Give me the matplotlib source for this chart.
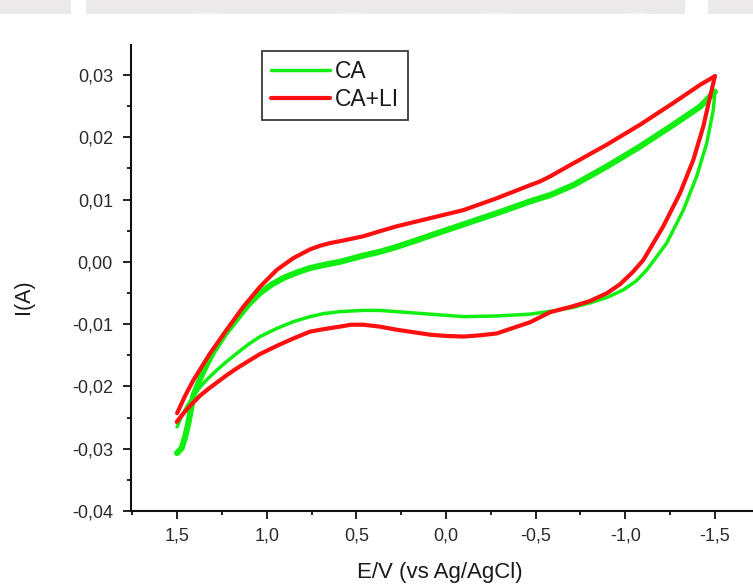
import matplotlib

matplotlib.use("Agg")
import matplotlib.pyplot as plt
from matplotlib.patches import Rectangle, Ellipse
from matplotlib.ticker import FuncFormatter, MultipleLocator

plt.rcParams["font.family"] = ["Liberation Sans", "DejaVu Sans"]

# CA: sweep from +1.5 V to -1.5 V (upper) and back (lower)
ca_up_e = [1.500, 1.474, 1.455, 1.437, 1.409, 1.372, 1.330, 1.298, 1.230, 1.167,
           1.100, 1.037, 0.970, 0.907, 0.830, 0.758, 0.680, 0.591, 0.461, 0.370,
           0.275, 0.180, 0.089, -0.097, -0.283, -0.469, -0.580, -0.710, -0.897,
           -1.082, -1.268, -1.417, -1.492, -1.500]
ca_up_i = [-0.0307, -0.0299, -0.0281, -0.0259, -0.0215, -0.0188, -0.0162, -0.0145,
           -0.0115, -0.0092, -0.0068, -0.0050, -0.0036, -0.0026, -0.0017, -0.0010,
           -0.0005, 0.0000, 0.0010, 0.0016, 0.0024, 0.0033, 0.0042, 0.0060, 0.0078,
           0.0097, 0.0107, 0.0123, 0.0153, 0.0185, 0.0220, 0.0249, 0.0271, 0.0273]
ca_dn_e = [-1.500, -1.491, -1.454, -1.398, -1.324, -1.231, -1.120, -1.060, -0.989,
           -0.900, -0.803, -0.710, -0.618, -0.469, -0.283, -0.097, 0.089, 0.275,
           0.370, 0.461, 0.530, 0.591, 0.680, 0.758, 0.851, 0.944, 1.037, 1.100,
           1.167, 1.223, 1.279, 1.330, 1.372, 1.410, 1.446, 1.475, 1.500]
ca_dn_i = [0.0273, 0.0244, 0.0190, 0.0137, 0.0083, 0.0030, -0.0013, -0.0031, -0.0045,
           -0.0057, -0.0066, -0.0073, -0.0078, -0.0084, -0.0087, -0.0088, -0.0084,
           -0.0080, -0.0078, -0.0078, -0.0079, -0.0080, -0.0083, -0.0088, -0.0096,
           -0.0107, -0.0120, -0.0132, -0.0147, -0.0160, -0.0174, -0.0188, -0.0201,
           -0.0216, -0.0233, -0.0248, -0.0265]

# CA+LI
li_up_e = [1.500, 1.455, 1.409, 1.316, 1.223, 1.130, 1.037, 0.944, 0.851, 0.758,
           0.700, 0.647, 0.560, 0.461, 0.370, 0.275, 0.089, -0.097, -0.283, -0.469,
           -0.525, -0.580, -0.710, -0.897, -1.082, -1.268, -1.417, -1.500]
li_up_i = [-0.0243, -0.0215, -0.0190, -0.0147, -0.0109, -0.0072, -0.0040, -0.0013,
           0.0006, 0.0020, 0.0026, 0.0030, 0.0035, 0.0041, 0.0049, 0.0057, 0.0070,
           0.0083, 0.0102, 0.0123, 0.0129, 0.0137, 0.0158, 0.0188, 0.0220, 0.0255,
           0.0284, 0.0298]
li_dn_e = [-1.500, -1.473, -1.435, -1.380, -1.305, -1.212, -1.101, -1.040, -0.971,
           -0.900, -0.803, -0.700, -0.618, -0.580, -0.469, -0.283, -0.190, -0.097,
           0.000, 0.089, 0.275, 0.370, 0.461, 0.530, 0.591, 0.680, 0.758, 0.851,
           0.944, 1.037, 1.100, 1.167, 1.223, 1.279, 1.330, 1.372, 1.410, 1.446,
           1.475, 1.502]
li_dn_i = [0.0298, 0.0265, 0.0217, 0.0164, 0.0110, 0.0057, 0.0003, -0.0017, -0.0036,
           -0.0050, -0.0063, -0.0072, -0.0078, -0.0081, -0.0097, -0.0115, -0.0118,
           -0.0120, -0.0119, -0.0117, -0.0109, -0.0104, -0.0101, -0.0101, -0.0104,
           -0.0108, -0.0112, -0.0123, -0.0135, -0.0148, -0.0159, -0.0171, -0.0182,
           -0.0194, -0.0205, -0.0215, -0.0226, -0.0237, -0.0247, -0.0257]

x_ticks = [1.5, 1.0, 0.5, 0.0, -0.5, -1.0, -1.5]
y_ticks = [0.03, 0.02, 0.01, 0.00, -0.01, -0.02, -0.03, -0.04]

GREEN = "#11ee11"
RED = "#ff1010"


def comma(fmt):
    return FuncFormatter(lambda v, pos: fmt.format(0.0 if abs(v) < 1e-9 else v).replace(".", ","))


fig = plt.figure(figsize=(7.53, 5.87), dpi=100)

# faded watermark band along the top edge
band = Rectangle((0, 1 - 14 / 587), 1, 14 / 587, transform=fig.transFigure,
                 color="#ebe9e9", lw=0)
fig.patches.append(band)
for x0, w in [(71, 15), (685, 23)]:
    fig.patches.append(Rectangle((x0 / 753, 1 - 14 / 587), w / 753, 14 / 587,
                                 transform=fig.transFigure, color="white", lw=0))
for cx in [207, 351, 495, 637]:
    e = Ellipse((cx / 753, 1 - 20 / 587), 44 / 753, 16 / 587, transform=fig.transFigure,
                color="#f2f1f1", lw=0)
    fig.patches.append(e)
    e.set_clip_path(band)

ax = fig.add_axes([131 / 753, 1 - 511 / 587, 630 / 753, 466 / 587])

style = dict(solid_joinstyle="round", solid_capstyle="round")
ax.plot(ca_up_e, ca_up_i, color=GREEN, lw=4.4, **style)
(h_ca,) = ax.plot(ca_dn_e, ca_dn_i, color=GREEN, lw=2.5, **style)
(h_li,) = ax.plot(li_up_e, li_up_i, color=RED, lw=3.0, **style)
ax.plot(li_dn_e, li_dn_i, color=RED, lw=3.0, **style)

ax.set_xlim(1.757, -1.757)
ax.set_ylim(-0.04, 0.0348)
ax.set_xticks(x_ticks)
ax.set_yticks(y_ticks)
ax.xaxis.set_minor_locator(MultipleLocator(0.25))
ax.yaxis.set_minor_locator(MultipleLocator(0.005))
ax.xaxis.set_major_formatter(comma("{:.1f}"))
ax.yaxis.set_major_formatter(comma("{:.2f}"))

for side in ["top", "right"]:
    ax.spines[side].set_visible(False)
for side in ["left", "bottom"]:
    ax.spines[side].set_linewidth(1.5)
    ax.spines[side].set_color("#111111")
ax.tick_params(which="major", direction="out", length=6, width=1.3, labelsize=13,
               color="#111111", labelcolor="#2a2a2a")
ax.tick_params(axis="y", which="major", pad=7)
ax.tick_params(axis="x", which="major", pad=6)
ax.tick_params(which="minor", direction="out", length=3, width=1.3, color="#111111")

ax.set_xlabel("E/V (vs Ag/AgCl)", fontsize=16, color="#1a1a1a")
ax.set_ylabel("I(A)", fontsize=15.5, color="#1a1a1a")
ax.xaxis.label.set_va("center")
ax.yaxis.label.set_va("center")
ax.xaxis.set_label_coords(0.49, -0.131)
ax.yaxis.set_label_coords(-0.171, 0.46)

leg = ax.legend([h_ca, h_li], ["CA", "CA+LI"], loc="upper left",
                bbox_to_anchor=(262 / 753, 1 - 51 / 587), bbox_transform=fig.transFigure,
                borderaxespad=0, fontsize=16.5, handlelength=2.55, handletextpad=0.22,
                borderpad=0.4, labelspacing=0.2, fancybox=False, framealpha=1)
leg.get_frame().set_edgecolor("#3a3a3a")
leg.get_frame().set_linewidth(1.3)
for t in leg.get_texts():
    t.set_color("#1a1a1a")

fig.savefig("out.png", dpi=100)
plt.close(fig)
